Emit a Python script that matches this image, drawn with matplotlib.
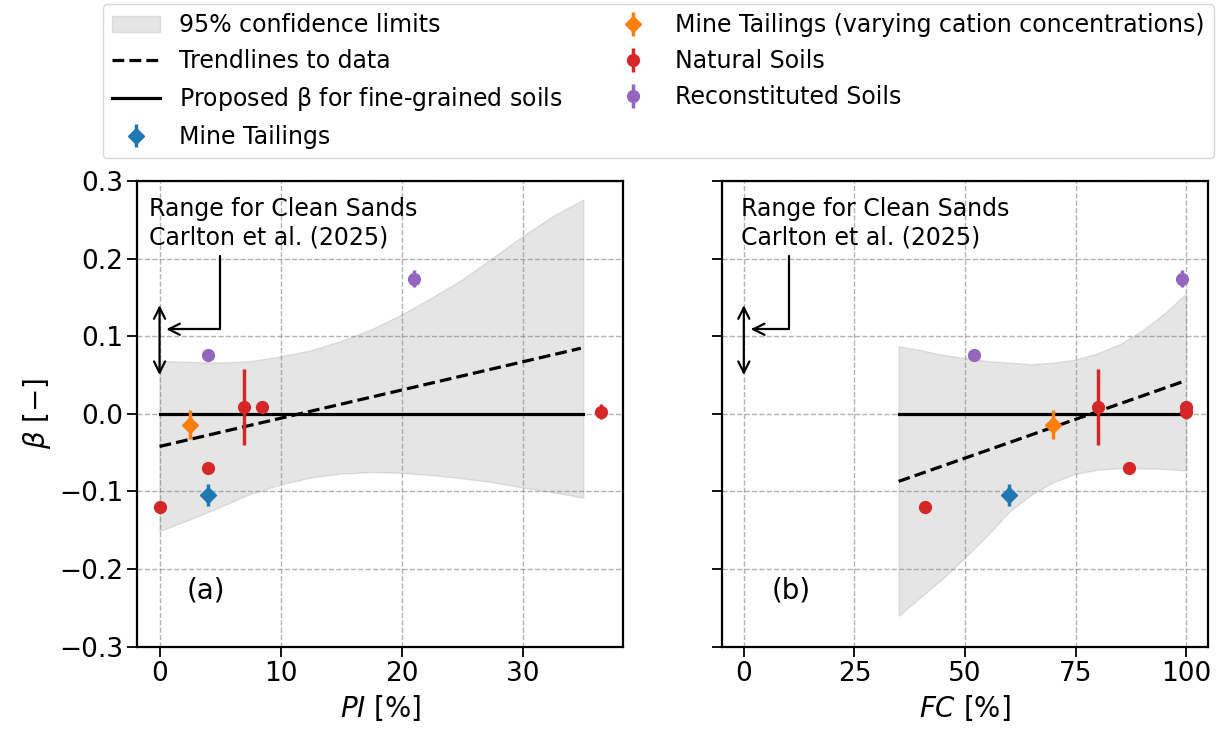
import numpy as np
import matplotlib.pyplot as plt

# measured beta values, plasticity index and fines content
pi_nat = [0, 4, 7, 8.5, 36.5]
fc_nat = [41, 87, 80, 100, 100]
beta_nat = [-0.12, -0.07, 0.009, 0.009, 0.003]
err_nat = [0, 0, 0.049, 0, 0.01]

pi_mine = [4]
fc_mine = [60]
beta_mine = [-0.105]
err_mine = [0.014]

pi_cat = [2.5]
fc_cat = [70]
beta_cat = [-0.014]
err_cat = [0.019]

pi_rec = [4, 21]
fc_rec = [52, 99]
beta_rec = [0.0755, 0.174]
err_rec = [0, 0.011]

# trendlines (end points) and 95% confidence band edges
pi_trend = [0, 34.8]
beta_trend_pi = [-0.042, 0.0845]
pi_band = [0, 2.5, 5, 7.5, 10, 12.5, 15, 17.5, 20, 22.5, 25, 27.5, 30, 32.5, 35]
pi_upper = [0.068, 0.067, 0.066, 0.068, 0.074, 0.082, 0.094, 0.109, 0.128,
            0.150, 0.173, 0.201, 0.229, 0.255, 0.276]
pi_lower = [-0.151, -0.136, -0.120, -0.103, -0.091, -0.082, -0.077, -0.075, -0.076,
            -0.079, -0.083, -0.088, -0.095, -0.101, -0.108]

fc_trend = [35, 99]
beta_trend_fc = [-0.087, 0.041]
fc_band = [35, 40, 45, 50, 55, 60, 65, 70, 75, 80, 85, 90, 95, 100]
fc_upper = [0.087, 0.082, 0.076, 0.072, 0.068, 0.066, 0.064, 0.066, 0.070,
            0.078, 0.090, 0.107, 0.129, 0.155]
fc_lower = [-0.260, -0.236, -0.212, -0.185, -0.157, -0.126, -0.104, -0.088, -0.077,
            -0.072, -0.070, -0.070, -0.071, -0.073]

proposed_beta = 0.0
sand_range = [0.05, 0.14]

FS_TICK = 19
FS_LAB = 20
FS_TXT = 17

fig = plt.figure(figsize=(12.23, 7.31), dpi=100)
ax1 = fig.add_axes([0.1124, 0.1153, 0.3974, 0.6371])
ax2 = fig.add_axes([0.5901, 0.1153, 0.3979, 0.6371], sharey=ax1)


def draw_panel(ax, x_nat, x_mine, x_cat, x_rec, band_x, band_lo, band_hi,
               trend_x, trend_y, prop_x):
    h_band = ax.fill_between(band_x, band_lo, band_hi, color='gray', alpha=0.2,
                             label='95% confidence limits')
    h_trend, = ax.plot(trend_x, trend_y, 'k--', lw=2.3, label='Trendlines to data')
    h_prop, = ax.plot(prop_x, [proposed_beta, proposed_beta], 'k-', lw=2.3,
                      label=r'Proposed $\mathrm{\beta}$ for fine-grained soils')
    kw = dict(ls='none', elinewidth=2.5, capsize=0)
    h_mine = ax.errorbar(x_mine, beta_mine, yerr=err_mine, fmt='D', ms=8,
                         color='tab:blue', label='Mine Tailings', **kw)
    h_cat = ax.errorbar(x_cat, beta_cat, yerr=err_cat, fmt='D', ms=8, color='tab:orange',
                        label='Mine Tailings (varying cation concentrations)', **kw)
    h_nat = ax.errorbar(x_nat, beta_nat, yerr=err_nat, fmt='o', ms=8.5, color='tab:red',
                        label='Natural Soils', **kw)
    h_rec = ax.errorbar(x_rec, beta_rec, yerr=err_rec, fmt='o', ms=8.5,
                        color='tab:purple', label='Reconstituted Soils', **kw)
    ax.grid(True, ls='--', color='gray', alpha=0.6, lw=1)
    ax.set_ylim(-0.3, 0.3)
    ax.set_yticks(np.arange(-0.3, 0.31, 0.1))
    ax.tick_params(labelsize=FS_TICK, length=7, width=1.3)
    for s in ax.spines.values():
        s.set_linewidth(1.6)
    # range for clean sands
    ax.annotate('', xy=(0, sand_range[0]), xytext=(0, sand_range[1]),
                arrowprops=dict(arrowstyle='<->', lw=1.6, color='k',
                                shrinkA=0, shrinkB=0, mutation_scale=20))
    return [h_band, h_trend, h_prop, h_mine, h_cat, h_nat, h_rec]


handles = draw_panel(ax1, pi_nat, pi_mine, pi_cat, pi_rec, pi_band, pi_lower, pi_upper,
                     pi_trend, beta_trend_pi, [0, 35])
draw_panel(ax2, fc_nat, fc_mine, fc_cat, fc_rec, fc_band, fc_lower, fc_upper,
           fc_trend, beta_trend_fc, [35, 100])

ax1.set_xlim(-1.825, 38.325)
ax1.set_xticks([0, 10, 20, 30])
ax2.set_xlim(-5, 105)
ax2.set_xticks([0, 25, 50, 75, 100])
plt.setp(ax2.get_yticklabels(), visible=False)

ax1.set_xlabel(r'$PI$ [%]', fontsize=FS_LAB)
ax2.set_xlabel(r'$FC$ [%]', fontsize=FS_LAB)
ax1.set_ylabel(r'$\beta$ [$-$]', fontsize=FS_LAB)

# clean sands note and pointer
for ax, tx, ax_x, tip_x, lab, lab_x in [(ax1, -0.9, 5.0, 0.55, '(a)', 3.8),
                                        (ax2, -0.7, 10.25, 1.6, '(b)', 10.7)]:
    ax.text(tx, 0.279, 'Range for Clean Sands\nCarlton et al. (2025)',
            fontsize=FS_TXT, ha='left', va='top')
    ax.annotate('', xy=(tip_x, 0.109), xytext=(ax_x, 0.203),
                arrowprops=dict(arrowstyle='->', lw=1.6, color='k',
                                shrinkA=0, shrinkB=0, mutation_scale=20,
                                connectionstyle='angle,angleA=90,angleB=0,rad=0'))
    ax.text(lab_x, -0.228, lab, fontsize=FS_LAB, ha='center', va='center')

fig.legend(handles=handles, loc='upper left', bbox_to_anchor=(103 / 1223, 1 - 4 / 731),
           ncol=2, fontsize=FS_TXT, labelspacing=0.5, borderaxespad=0)

fig.savefig('out.png', dpi=100)
